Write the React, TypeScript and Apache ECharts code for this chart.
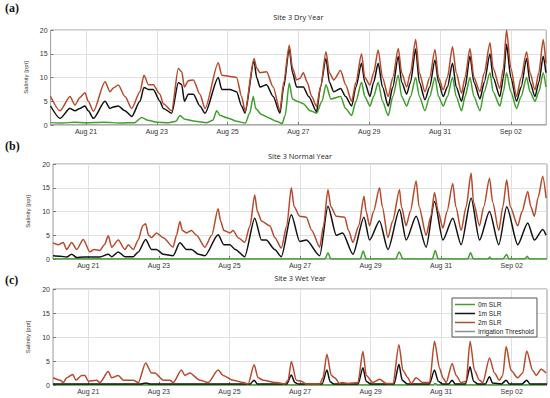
import React, { useEffect, useRef } from "react";
import * as echarts from "echarts";

// x values are hours since Aug 20 00:00
const tickHours = [24, 72, 120, 168, 216, 264, 312];
const tickLabels = ["Aug 21", "Aug 23", "Aug 25", "Aug 27", "Aug 29", "Aug 31", "Sep 02"];
const panelTitles = ["Site 3 Dry Year", "Site 3 Normal Year", "Site 3 Wet Year"];
const panelLetters = ["(a)", "(b)", "(c)"];
const seriesNames = ["0m SLR", "1m SLR", "2m SLR", "Irrigation Threshold"];
const thresholdLine: [number, number][] = [[0, 0], [336, 0]];

// ---- Dry year ----
const dry0m: [number, number][] = [
  [0, 0.5], [8, 0.4], [16, 0.6], [24, 0.5], [36, 0.6], [48, 0.4], [57, 0.5], [61.8, 1.6], [66, 1.0], [72, 0.6],
  [80, 0.5], [85, 0.8], [87.7, 2.0], [91, 1.2], [98, 0.8], [106, 0.5], [110, 1.0], [112.6, 3.0], [115, 2.0], [120, 1.5],
  [126, 0.8], [132, 0.4], [135, 2.5], [137.4, 6.0], [139, 3.5], [143, 2.2], [148, 1.5], [153, 0.8], [157, 0.3], [159, 2],
  [161.8, 8.8], [164, 5.5], [167, 5], [171.3, 4.5], [176, 3], [180.3, 2.5], [184, 5], [186.7, 8.5], [190, 5.5], [196.6, 6],
  [200, 3.5], [204.1, 2], [207, 5], [210.8, 9], [213, 6], [216.5, 4], [219, 6], [222.1, 9], [225, 5], [228.9, 2],
  [232, 6], [235.7, 10.5], [238, 6], [241.4, 4], [244, 6], [247.5, 10], [250, 6], [253.8, 3], [257, 6], [260.6, 10],
  [263, 6], [266.2, 4], [269, 6], [272.5, 10], [275, 6], [278.6, 3], [281, 6], [284.3, 10], [287, 6], [291.1, 3],
  [294, 7], [297.9, 11], [300, 7], [304.6, 4], [307, 7], [309.1, 11], [312, 7], [315.9, 3.5], [319, 6], [322.7, 10],
  [325, 7], [328.4, 5], [331, 7], [334, 11], [335.8, 8],
];
const dry1m: [number, number][] = [
  [0, 4.0], [6.4, 1.4], [13.2, 3.5], [16.5, 3.0], [19.9, 3.5], [23.3, 4.0], [25.5, 3], [29, 1.4], [36.9, 5.0], [40.3, 3.5],
  [42.5, 3.8], [45.9, 4.0], [50.4, 3], [55, 1.8], [60.6, 5], [63.3, 7.9], [66.3, 7.5], [69.6, 7.5], [74.1, 5], [76.4, 3.5],
  [82.1, 2.5], [86.6, 8.9], [88.9, 8.5], [90.7, 5.0], [93.4, 6.5], [96.8, 6.5], [101.2, 4.0], [104.7, 2.5], [113.7, 10.0], [116, 7.5],
  [121.6, 7.5], [126.1, 7.0], [129.5, 4], [131.8, 2.5], [137.9, 13.5], [139.7, 10], [142, 8.0], [146.4, 8.5], [150.9, 6], [155.5, 2.5],
  [158, 8], [161.8, 16], [164, 11], [166.8, 8], [171.3, 8], [175, 6], [180.3, 2.8], [183, 8], [186.7, 14], [189, 9],
  [192, 7], [196.6, 7.7], [200, 6], [204.1, 4], [207, 8], [210.8, 13], [213, 9], [216.5, 6], [219, 9], [222.1, 13],
  [225, 8], [228.9, 4], [232, 8], [235.7, 14.4], [238, 9], [241.4, 6.5], [244, 9], [247.5, 16], [250, 9], [253.8, 5.3],
  [257, 8], [260.6, 13.7], [263, 9], [266.2, 6], [269, 8], [272.5, 13], [275, 8], [278.6, 5], [281, 8], [284.3, 14.5],
  [287, 9], [291.1, 5.5], [294, 9], [297.9, 15], [300, 10], [304.6, 6], [307, 10], [309.1, 17], [312, 10], [315.9, 5],
  [319, 8], [322.7, 14], [325, 9], [328.4, 6], [331, 9], [334, 14.5], [335.8, 11],
];
const dry2m: [number, number][] = [
  [0, 6.0], [6.4, 3.0], [13.2, 6.0], [16.5, 4.2], [19.9, 5.8], [23.3, 6.8], [25.5, 5], [29, 2.9], [36.9, 9.1], [40.3, 7.0],
  [42.5, 7.8], [45.9, 8.4], [50.4, 6], [55, 3.5], [60.6, 7], [63.3, 10.5], [66.3, 8.5], [69.6, 8.5], [74.1, 6.5], [76.4, 4.5],
  [82.1, 3.0], [86.6, 11.9], [88.9, 11.2], [90.7, 8.0], [93.4, 9.3], [96.8, 9.5], [101.2, 6.5], [104.7, 3.5], [113.7, 13.1], [116, 10.5],
  [121.6, 10.2], [126.1, 10], [129.5, 6], [131.8, 3.0], [137.9, 14.0], [139.7, 12], [142, 11.0], [146.4, 11.2], [150.9, 8], [155.5, 3.0],
  [158, 9], [161.8, 16.8], [164, 12], [166.8, 9.5], [169, 9.8], [171.3, 11], [174, 9], [177, 6], [180.3, 3.9], [183, 8],
  [186.7, 15.4], [189, 11], [192, 9.5], [196.6, 11.5], [200, 8.5], [204.1, 5], [207, 9], [210.8, 15], [213, 10], [216.5, 8.4],
  [219, 11], [222.1, 15.8], [225, 10], [228.9, 6], [232, 10], [235.7, 16.1], [238, 11], [241.4, 8], [244, 11], [247.5, 18],
  [250, 11], [253.8, 7], [257, 10], [260.6, 15.9], [263, 10], [266.2, 7.4], [269, 10], [272.5, 16.5], [275, 11], [278.6, 6.7],
  [281, 10], [284.3, 16.1], [287, 10], [291.1, 7], [294, 11], [297.9, 17.3], [300, 12], [304.6, 7.7], [307, 12], [309.1, 20],
  [312, 12], [315.9, 6], [319, 10], [322.7, 15.4], [325, 11], [328.4, 7.4], [331, 11], [334, 18], [335.8, 13],
];

// ---- Normal year ----
const normal0m: [number, number][] = [
  [0, 0], [185, 0], [187, 1.3], [189, 0], [209, 0], [211, 1.7], [213, 0], [233, 0], [235.5, 1.5], [238, 0],
  [258, 0], [260, 1.8], [262, 0], [282, 0], [284, 1.3], [286, 0], [296, 0], [297, 0.4], [298, 0], [306, 0],
  [308.6, 1], [310, 0], [321, 0], [322.5, 0.6], [324, 0], [336, 0],
];
const normal1m: [number, number][] = [
  [0, 0.7], [5, 0.6], [9.3, 0.4], [12.7, 1.0], [16.1, 0.3], [20.6, 0.4], [25.1, 0.4], [31.9, 0.4], [37.6, 1.0], [40, 0.5],
  [44.4, 1.5], [48.9, 0.5], [54.6, 0.5], [58, 1.5], [63, 4.1], [67, 2], [70.4, 2], [75, 1], [81.7, 0.7], [86.3, 3.4],
  [90.8, 2], [94.2, 2], [99, 1], [103.3, 0.7], [112.3, 5.1], [116.2, 3], [120.3, 3], [124, 2], [130.4, 0.5], [137.2, 8.6],
  [141.8, 4], [145, 4], [150.8, 2], [155.3, 0.5], [162.1, 9.3], [167.8, 3.7], [172.3, 4], [181.4, 0.7], [187, 11.1], [192.7, 5],
  [197, 5.5], [204, 1], [211.5, 8.8], [215.3, 4], [222.1, 8], [227.8, 2], [235.7, 10.4], [240.2, 4], [247, 9], [253.8, 2.5],
  [259.5, 12.1], [265.2, 4], [271.9, 8.6], [277.6, 3], [284.4, 12.8], [290.1, 4], [296.9, 10], [303.2, 3], [308.6, 11], [316.1, 3],
  [322.9, 7.6], [327.4, 4], [333.1, 6.2], [335.4, 5],
];
const normal2m: [number, number][] = [
  [0, 3.4], [3.6, 3.0], [7, 3.5], [9.3, 2.0], [12.7, 3.5], [16.1, 2.0], [20.6, 4.1], [25.1, 1.5], [28, 2], [31.9, 1.8],
  [35, 3], [37.6, 4.9], [39.9, 2.5], [44.4, 4.0], [48.9, 2.0], [51.2, 3.0], [54.6, 2.0], [58, 4], [61, 7], [63, 7.4],
  [65, 5], [67, 4.5], [70.4, 5.5], [75, 4.5], [81.7, 2.5], [84, 5], [86.3, 7.9], [88, 6], [90.8, 5.5], [94.2, 6],
  [97.6, 5], [103.3, 2.5], [108, 5], [112.3, 10.6], [114, 8], [116.2, 6], [120.3, 5.5], [122.5, 6], [126, 4.5], [130.4, 3.5],
  [134, 7], [137.2, 13.5], [139, 10], [141.8, 8], [147.4, 7], [151, 4.5], [155.3, 2.3], [159, 7], [162.1, 15], [164, 11],
  [167.8, 9], [172.3, 8.8], [176, 6], [181.4, 2.5], [184, 7], [187, 14.6], [189, 11], [192.7, 9], [198.4, 8.8], [201, 6],
  [204, 3.5], [208, 7], [211.5, 13.2], [213, 10], [215.3, 7], [218, 10], [222.1, 15], [224, 11], [227.8, 4.5], [231, 8],
  [235.7, 14.6], [237, 11], [240.2, 7], [243, 10], [247, 16.4], [249, 11], [253.8, 5], [257, 9], [259.5, 14], [262, 10],
  [265.2, 6.5], [268, 10], [271.9, 15.9], [274, 11], [277.6, 6], [281, 11], [284.4, 18.1], [286, 12], [290.1, 7], [293, 11],
  [296.9, 17], [299, 12], [303.2, 6], [306, 11], [308.6, 16.7], [311, 11], [316.1, 7], [319, 10], [322.9, 14.2], [325, 11],
  [327.4, 9], [330, 13], [333.1, 17.4], [335.4, 12.8],
];

// ---- Wet year ----
const wet0m: [number, number][] = [[0, 0], [258, 0], [260, 0.3], [262, 0], [336, 0]];
const wet1m: [number, number][] = [
  [0, 0.2], [60, 0.2], [63, 0.4], [66, 0.2], [134, 0.2], [136.8, 1.0], [139, 0.2], [159, 0.2], [162.1, 2.1], [164.5, 0.5],
  [167, 0.2], [183, 0.2], [186.3, 3.1], [188.5, 0.7], [191, 0.2], [207.5, 0.2], [210.8, 3.6], [213, 0.8], [216, 0.2], [232, 0.2],
  [235.3, 4.3], [237.5, 1.0], [241, 0.2], [256, 0.2], [259.5, 3.1], [262, 0.8], [265, 0.2], [269, 0.2], [271.5, 1.0], [273.5, 0.2],
  [280.5, 0.2], [283.7, 3.8], [286, 0.8], [289, 0.2], [294, 0.2], [296.9, 1.7], [299, 0.4], [305, 0.2], [308.2, 1.0], [310.5, 0.2],
  [319, 0.2], [322.2, 1.0], [324.5, 0.2], [336, 0.2],
];
const wet2m: [number, number][] = [
  [0, 1.5], [4.8, 1.0], [7, 0.5], [9.3, 1.5], [13.4, 2.2], [15.6, 1.0], [19.5, 2.0], [21.7, 2.0], [24, 0.8], [29.7, 1.0],
  [31.9, 0.5], [37.6, 2.8], [39.9, 1.5], [44.4, 2.0], [47.8, 1.0], [54.6, 1.0], [58, 0.5], [63, 4.6], [67, 2.5], [69.3, 2.5],
  [75, 1.0], [79.5, 1.0], [81.7, 0.5], [87.4, 3.1], [89.7, 2.0], [93.1, 2.5], [99.9, 1.0], [105.5, 0.5], [112.3, 3.1], [115.7, 2.0],
  [122.5, 1.0], [129.3, 0.5], [132.7, 0.2], [136.8, 4.2], [139.5, 1.5], [142.9, 1.0], [151.9, 0.5], [157.6, 0.2], [159.9, 1],
  [162.1, 4.9], [165.5, 1.0], [168.9, 0.8], [172.3, 0.2], [181.4, 0.2], [183.6, 1.5], [186.3, 6.4], [189.3, 2.0], [191.6, 1.5], [195, 0.3],
  [196.1, 0.5], [200.6, 0.3], [207.4, 0.5], [210.8, 7.0], [213.1, 2.0], [217.6, 0.5], [222.1, 1.2], [226.7, 0.3], [231.2, 0.3], [235.3, 8.4],
  [238, 3.0], [241.4, 1.5], [243.6, 0.3], [247, 1.5], [251.6, 0.5], [256.1, 0.5], [259.5, 9.1], [262.9, 3.5], [265.2, 1.5], [267.4, 0.5],
  [271.5, 4.5], [274.2, 2.0], [277.6, 0.5], [281, 0.8], [283.7, 9.1], [286.7, 3.0], [290.1, 1.0], [292.3, 0.5], [296.9, 5.6], [300.3, 2.5],
  [303.6, 1.0], [305.9, 2], [308.2, 8.0], [311.6, 3.0], [316.1, 1.5], [319.5, 2.5], [322.2, 7.1], [326.3, 3.0], [328.6, 2.0], [332, 3.3],
  [335.4, 2.5],
];

const panelData = [
  [dry0m, dry1m, dry2m],
  [normal0m, normal1m, normal2m],
  [wet0m, wet1m, wet2m],
];

const colors = ["#3f9e2c", "#111111", "#b54a2c", "#8c8c8c"];

const grids = [
  { left: 50.6, top: 30, width: 495.6, height: 95 },
  { left: 53, top: 164, width: 494, height: 95 },
  { left: 53, top: 289, width: 494, height: 96 },
];
const titleY = [16.7, 156, 278];
const letterY = [8, 146, 280];

const FONT = "Liberation Sans, Arial, sans-serif";

export default function App() {
  const ref = useRef<HTMLDivElement>(null);
  useEffect(() => {
    if (!ref.current) return;
    const chart = echarts.init(ref.current, undefined, { renderer: "svg" });
    const xAxes: any[] = [];
    const yAxes: any[] = [];
    const series: any[] = [];
    const graphics: any[] = [];
    grids.forEach((g, i) => {
      xAxes.push({
        gridIndex: i,
        type: "value",
        min: 0,
        max: 336,
        axisLine: { show: false },
        axisTick: { show: true, inside: true, length: 3, customValues: tickHours, lineStyle: { color: "#777" } },
        axisLabel: {
          customValues: tickHours,
          formatter: (v: number) => tickLabels[tickHours.indexOf(v)] ?? "",
          fontSize: 7,
          color: "#333",
          margin: 3,
          fontFamily: FONT,
        },
        splitLine: { show: true, lineStyle: { color: "#e0e0e0", width: 1 } },
      });
      yAxes.push({
        gridIndex: i,
        type: "value",
        min: 0,
        max: 20,
        interval: 5,
        axisLine: { show: false },
        axisTick: { show: true, inside: true, length: 3, lineStyle: { color: "#777" } },
        axisLabel: { fontSize: 7, color: "#333", margin: 3, fontFamily: FONT },
        splitLine: { show: true, lineStyle: { color: "#e0e0e0", width: 1 } },
        name: "Salinity [ppt]",
        nameLocation: "middle",
        nameGap: 15,
        nameTextStyle: { fontSize: 6, color: "#333", fontFamily: FONT },
      });
      series.push({
        name: seriesNames[3],
        type: "line",
        xAxisIndex: i,
        yAxisIndex: i,
        data: thresholdLine,
        showSymbol: false,
        lineStyle: { color: colors[3], width: 1.2 },
        itemStyle: { color: colors[3] },
        z: 1,
      });
      panelData[i].forEach((d, k) => {
        series.push({
          name: seriesNames[k],
          type: "line",
          xAxisIndex: i,
          yAxisIndex: i,
          data: d,
          showSymbol: false,
          smooth: 0.25,
          smoothMonotone: "x",
          lineStyle: { color: colors[k], width: 1.5 },
          itemStyle: { color: colors[k] },
          z: 2 + k,
        });
      });
      graphics.push({
        type: "text",
        x: g.left + g.width / 2,
        y: titleY[i],
        style: {
          text: panelTitles[i],
          align: "center",
          verticalAlign: "middle",
          textAlign: "center",
          textVerticalAlign: "middle",
          fontSize: 7.4,
          fontFamily: "Open Sans, sans-serif",
          fill: "#222",
        },
      });
      graphics.push({
        type: "text",
        x: 5,
        y: letterY[i],
        style: {
          text: panelLetters[i],
          align: "left",
          verticalAlign: "middle",
          textAlign: "left",
          textVerticalAlign: "middle",
          fontSize: 12,
          fontWeight: "bold",
          fontFamily: "Liberation Serif, DejaVu Serif, serif",
          fill: "#111",
        },
      });
    });
    chart.setOption({
      animation: false,
      backgroundColor: "#ffffff",
      grid: grids.map((g) => ({ ...g, show: true, borderColor: "#9a9a9a", borderWidth: 1, backgroundColor: "transparent" })),
      xAxis: xAxes,
      yAxis: yAxes,
      series,
      graphic: graphics,
      legend: {
        data: seriesNames,
        orient: "vertical",
        left: 452,
        top: 298,
        padding: [3, 3, 2, 3],
        itemGap: 2,
        itemWidth: 20,
        itemHeight: 1.5,
        icon: "rect",
        borderColor: "#555",
        borderWidth: 1,
        backgroundColor: "#fff",
        textStyle: { fontSize: 6.5, color: "#222", fontFamily: FONT, padding: [0, 0, 0, -2] },
      },
    });
    return () => chart.dispose();
  }, []);
  return <div ref={ref} style={{ position: "fixed", left: 0, top: 0, width: 550, height: 398 }} />;
}
